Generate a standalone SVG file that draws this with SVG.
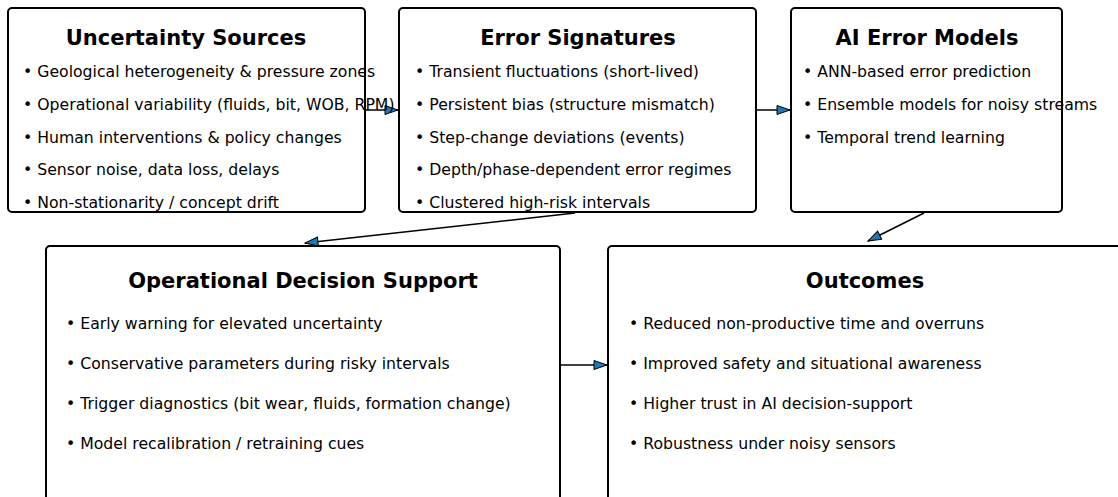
<svg xmlns="http://www.w3.org/2000/svg" width="1118" height="497" viewBox="0 0 1118 497">
<style>
.box{fill:#fff;stroke:#000;stroke-width:2}
.t{font-family:"DejaVu Sans",sans-serif;font-size:21px;font-weight:bold;text-anchor:middle;fill:#000}
.b{font-family:"DejaVu Sans",sans-serif;font-size:15.7px;fill:#000}
.c{stroke:#000;stroke-width:1.5;fill:none}
</style>
<defs>
<marker id="ah" markerWidth="16" markerHeight="12" refX="14" refY="6" orient="auto" markerUnits="userSpaceOnUse">
<path d="M1,1.5 L14,6 L1,10.5 Z" fill="#1f77b4" stroke="#000" stroke-width="1"/>
</marker>
</defs>
<rect width="1118" height="497" fill="#fff"/>
<g id="connectors">
<line class="c" x1="365" y1="110" x2="398" y2="110" marker-end="url(#ah)"/>
<line class="c" x1="756" y1="110" x2="790" y2="110" marker-end="url(#ah)"/>
<line class="c" x1="575" y1="213" x2="305" y2="243" marker-end="url(#ah)"/>
<line class="c" x1="924" y1="213" x2="868" y2="241" marker-end="url(#ah)"/>
<line class="c" x1="560" y1="365" x2="607" y2="365" marker-end="url(#ah)"/>
</g>
<g id="uncertainty-sources">
<rect class="box" x="8" y="8" width="357" height="204" rx="4"/>
<text class="t" x="186" y="45">Uncertainty Sources</text>
<text class="b" x="23" y="77">• Geological heterogeneity &amp; pressure zones</text>
<text class="b" x="23" y="110">• Operational variability (fluids, bit, WOB, RPM)</text>
<text class="b" x="23" y="143">• Human interventions &amp; policy changes</text>
<text class="b" x="23" y="175">• Sensor noise, data loss, delays</text>
<text class="b" x="23" y="208">• Non-stationarity / concept drift</text>
</g>
<g id="error-signatures">
<rect class="box" x="399" y="8" width="357" height="204" rx="4"/>
<text class="t" x="578" y="45">Error Signatures</text>
<text class="b" x="415" y="77">• Transient fluctuations (short-lived)</text>
<text class="b" x="415" y="110">• Persistent bias (structure mismatch)</text>
<text class="b" x="415" y="143">• Step-change deviations (events)</text>
<text class="b" x="415" y="175">• Depth/phase-dependent error regimes</text>
<text class="b" x="415" y="208">• Clustered high-risk intervals</text>
</g>
<g id="ai-error-models">
<rect class="box" x="791" y="8" width="271" height="204" rx="4"/>
<text class="t" x="927" y="45">AI Error Models</text>
<text class="b" x="803" y="77">• ANN-based error prediction</text>
<text class="b" x="803" y="110">• Ensemble models for noisy streams</text>
<text class="b" x="803" y="143">• Temporal trend learning</text>
</g>
<g id="operational-decision-support">
<rect class="box" x="46" y="246" width="514" height="260" rx="4"/>
<text class="t" x="303" y="288">Operational Decision Support</text>
<text class="b" x="66" y="329">• Early warning for elevated uncertainty</text>
<text class="b" x="66" y="369">• Conservative parameters during risky intervals</text>
<text class="b" x="66" y="409">• Trigger diagnostics (bit wear, fluids, formation change)</text>
<text class="b" x="66" y="449">• Model recalibration / retraining cues</text>
</g>
<g id="outcomes">
<rect class="box" x="608" y="246" width="530" height="260" rx="4"/>
<text class="t" x="865" y="288">Outcomes</text>
<text class="b" x="629" y="329">• Reduced non-productive time and overruns</text>
<text class="b" x="629" y="369">• Improved safety and situational awareness</text>
<text class="b" x="629" y="409">• Higher trust in AI decision-support</text>
<text class="b" x="629" y="449">• Robustness under noisy sensors</text>
</g>
</svg>
